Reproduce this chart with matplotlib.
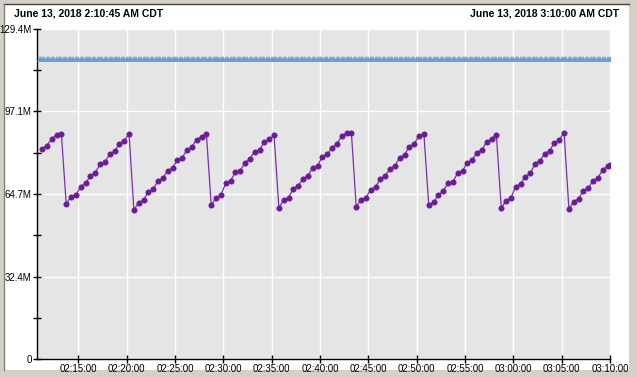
import matplotlib
matplotlib.use("Agg")
import matplotlib.pyplot as plt
import matplotlib.dates as mdates
from matplotlib.patches import Rectangle
from matplotlib.ticker import FixedLocator, FixedFormatter
import pandas as pd

plt.rcParams['font.family'] = ['Liberation Sans', 'DejaVu Sans']

# ---- data ----
title_left = "June 13, 2018 2:10:45 AM CDT"
title_right = "June 13, 2018 3:10:00 AM CDT"
x_start = "2018-06-13 02:10:45"
x_end = "2018-06-13 03:10:00"

purple_values_m = [
    82.3, 83.6, 86.3, 87.9, 88.2,
    60.8, 63.7, 64.4, 67.6, 68.9, 71.8, 73.0, 76.3, 77.3, 80.2, 81.4, 84.3, 85.6, 88.3,
    58.5, 61.3, 62.4, 65.6, 66.7, 69.8, 71.0, 73.8, 74.9, 78.0, 78.9, 82.0, 83.2, 86.0, 87.1, 88.2,
    60.4, 63.1, 64.3, 68.9, 69.9, 73.2, 73.8, 77.0, 78.5, 81.3, 82.0, 85.1, 86.2, 87.7,
    59.2, 62.5, 63.3, 66.8, 68.0, 70.7, 71.9, 75.0, 75.8, 79.3, 80.2, 82.8, 84.4, 87.3, 88.5, 88.7,
    59.6, 62.5, 63.3, 66.4, 67.6, 70.6, 71.9, 74.6, 75.8, 78.9, 80.1, 83.2, 84.4, 87.5, 88.2,
    60.4, 61.5, 64.3, 66.0, 68.9, 69.5, 73.0, 73.8, 77.0, 78.1, 80.9, 82.0, 85.2, 86.3, 87.7,
    59.2, 62.1, 63.3, 67.6, 68.7, 71.5, 72.8, 76.6, 77.7, 80.5, 81.7, 84.7, 86.0, 88.7,
    58.8, 61.7, 62.9, 66.0, 67.1, 69.9, 71.1, 74.1, 75.7, 75.9,
]
purple_times = list(pd.date_range("2018-06-13 02:11:15", periods=len(purple_values_m) - 1, freq="30s")) \
    + [pd.Timestamp("2018-06-13 03:10:00")]

blue_times = pd.date_range("2018-06-13 02:11:00", "2018-06-13 03:10:00", freq="15s")
blue_values_m = [117.7] * len(blue_times)

y_ticks_m = [0, 32.35, 64.7, 97.05, 129.4]
y_tick_labels = ["0", "32.4M", "64.7M", "97.1M", "129.4M"]

# ---- figure ----
W, H = 637, 377
fig = plt.figure(figsize=(W / 100, H / 100), dpi=100)
fig.patch.set_facecolor('#d4d0c8')

def px_rect(x0, y0, x1, y1, **kw):
    fig.patches.append(Rectangle((x0 / W, 1 - y1 / H), (x1 - x0) / W, (y1 - y0) / H,
                                 transform=fig.transFigure, **kw))

px_rect(4, 4, 629, 370, facecolor='white', edgecolor='none', zorder=-5)
fig.add_artist(plt.Line2D([4 / W, 629 / W], [1 - 4 / H, 1 - 4 / H], color='#404040', lw=1,
                          transform=fig.transFigure, zorder=-4))
fig.add_artist(plt.Line2D([4 / W, 4 / W], [1 - 4 / H, 1 - 370 / H], color='#808080', lw=1,
                          transform=fig.transFigure, zorder=-4))

x0p, x1p, y0p, y1p = 37.2, 610.0, 28.6, 359.4
ax = fig.add_axes([x0p / W, 1 - y1p / H, (x1p - x0p) / W, (y1p - y0p) / H])
ax.set_zorder(1)
ax.set_facecolor('#e5e5e5')

ax.plot(blue_times, [v * 1e6 for v in blue_values_m], color='#7aa8d6', lw=1,
        marker='^', markersize=4.0, markerfacecolor='#6c9fd0', markeredgewidth=0, zorder=3)
ax.plot(purple_times, [v * 1e6 for v in purple_values_m], color='#7b2fb0', lw=0.9,
        marker='o', markersize=3.8, markerfacecolor='#6a1b9a', markeredgecolor='#6a1b9a',
        markeredgewidth=0.5, zorder=4)

ax.set_xlim(pd.Timestamp(x_start), pd.Timestamp(x_end))
ax.set_ylim(0, 129.4e6)

ax.xaxis.set_major_locator(mdates.MinuteLocator(byminute=range(0, 60, 5)))
ax.xaxis.set_major_formatter(mdates.DateFormatter('%H:%M:%S'))
ax.yaxis.set_major_locator(FixedLocator([v * 1e6 for v in y_ticks_m]))
ax.yaxis.set_major_formatter(FixedFormatter(y_tick_labels))
ax.yaxis.set_minor_locator(FixedLocator([(y_ticks_m[i] + y_ticks_m[i + 1]) / 2 * 1e6 for i in range(4)]))

ax.tick_params(axis='both', which='major', direction='inout', length=6, width=1,
               labelsize=7, colors='black', pad=1)
ax.tick_params(axis='y', which='minor', direction='inout', length=6, width=1)
ax.tick_params(axis='x', pad=0)

ax.grid(True, which='major', color='white', lw=1)
ax.set_axisbelow(True)
for s in ['top', 'right']:
    ax.spines[s].set_visible(False)
for s in ['left', 'bottom']:
    ax.spines[s].set_color('black')
    ax.spines[s].set_linewidth(1)

fig.text(14 / W, 1 - 14 / H, title_left, fontsize=7.5, fontweight='bold', ha='left', va='center')
fig.text(619 / W, 1 - 14 / H, title_right, fontsize=7.5, fontweight='bold', ha='right', va='center')

fig.savefig("out.png", dpi=100, facecolor=fig.get_facecolor())
